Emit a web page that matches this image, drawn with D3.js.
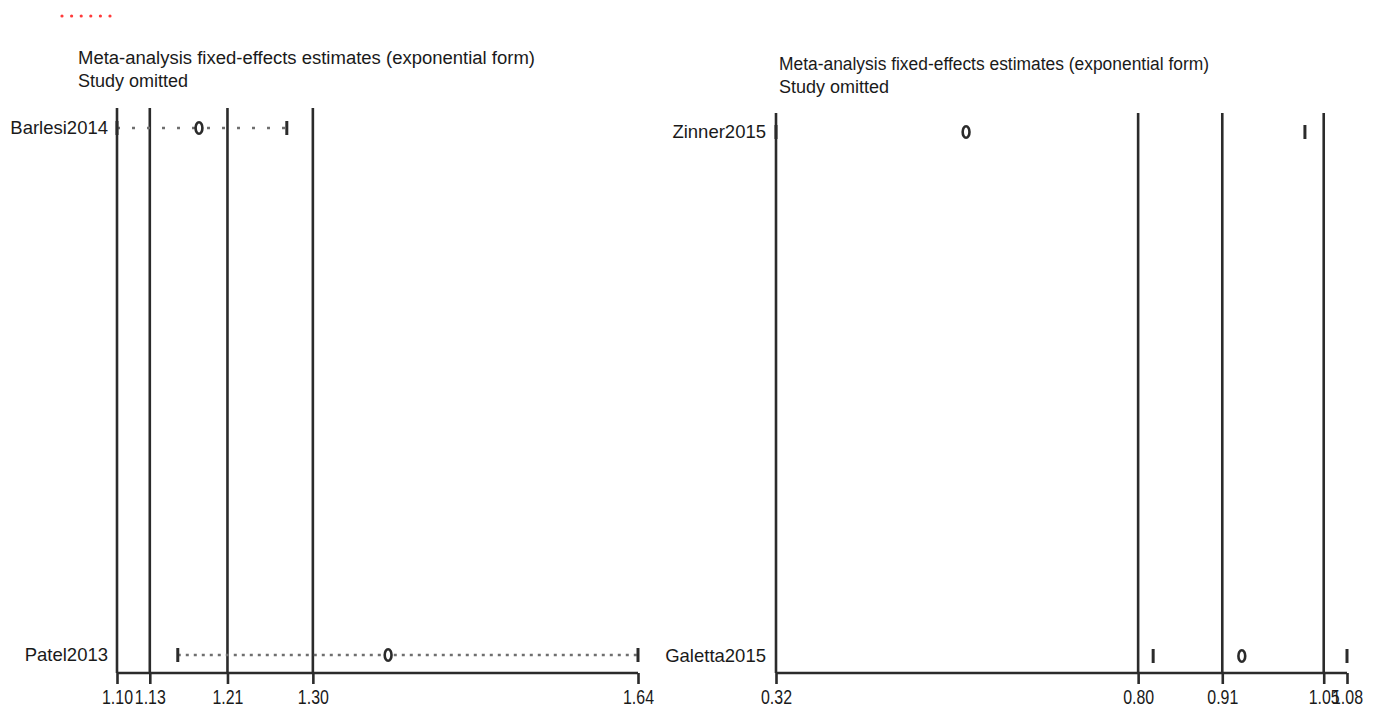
<!DOCTYPE html>
<html>
<head>
<meta charset="utf-8">
<script src="https://cdn.jsdelivr.net/npm/d3@7"></script>
<style>
  html, body { margin: 0; padding: 0; background: #fff; }
  svg { display: block; }
  text { font-family: "Liberation Sans", Arial, sans-serif; fill: #1a1a1a; }
</style>
</head>
<body>
<svg id="chart" width="1380" height="709"></svg>
<script>
// Influence analysis: each row shows the pooled estimate with one study omitted.
const titleLines = ["Meta-analysis fixed-effects estimates (exponential form)", "Study omitted"];

// Left panel
const leftStudies = ["Barlesi2014", "Patel2013"];
const leftLower = [1.10, 1.163];
const leftEstimate = [1.185, 1.381];
const leftUpper = [1.276, 1.64];
const leftDomain = [1.10, 1.64];
const leftRefs = [1.134, 1.2145, 1.303];   // lower CI, estimate, upper CI of the full analysis

// Right panel
const rightStudies = ["Zinner2015", "Galetta2015"];
const rightLower = [0.32, 0.822];
const rightEstimate = [0.573, 0.940];
const rightUpper = [1.024, 1.08];
const rightDomain = [0.32, 1.08];
const rightRefs = [0.802, 0.914, 1.049];

const svg = d3.select("#chart");
const ink = "#2b2b2b";

// small red dotted key in the top-left corner
const keyDots = [0, 1, 2, 3, 4, 5];
const keyX = d3.scaleLinear().domain([0, 5]).range([62, 110]);
svg.append("g").selectAll("circle").data(keyDots).join("circle")
  .attr("cx", d => keyX(d)).attr("cy", 16).attr("r", 1.6)
  .attr("fill", "#ff3b3b");

function panel(cfg) {
  const g = svg.append("g");
  const x = d3.scaleLinear().domain(cfg.domain).range([cfg.x0, cfg.x1]);
  const y = d3.scalePoint().domain(cfg.studies).range([cfg.yFirst, cfg.yLast]);

  // title
  g.append("g").selectAll("text").data(titleLines).join("text")
    .attr("x", cfg.titleX)
    .attr("y", (d, i) => cfg.titleY + i * 23)
    .attr("font-size", 18)
    .attr("textLength", (d, i) => i === 0 ? cfg.titleW : null)
    .attr("lengthAdjust", "spacingAndGlyphs")
    .text(d => d);

  // vertical axis line at domain start plus reference lines
  const vlines = [cfg.domain[0], ...cfg.refs];
  g.append("g").selectAll("line").data(vlines).join("line")
    .attr("x1", d => x(d)).attr("x2", d => x(d))
    .attr("y1", cfg.top).attr("y2", cfg.axisY)
    .attr("stroke", ink).attr("stroke-width", 2.6);

  // x axis
  const axis = d3.axisBottom(x)
    .tickValues([cfg.domain[0], ...cfg.refs, cfg.domain[1]])
    .tickFormat(d3.format(".2f"))
    .tickSize(11).tickPadding(6);
  const ax = g.append("g").attr("transform", `translate(0,${cfg.axisY})`).call(axis);
  ax.select(".domain").attr("stroke", ink).attr("stroke-width", 2.6)
    .attr("d", `M${x(cfg.domain[0])},0H${x(cfg.domain[1])}`);
  ax.selectAll(".tick line").attr("stroke", ink).attr("stroke-width", 2.6);
  ax.selectAll(".tick text").attr("font-size", 19.5).attr("fill", "#1a1a1a")
    .attr("font-family", "Liberation Sans, Arial, sans-serif")
    .attr("textLength", 31).attr("lengthAdjust", "spacingAndGlyphs");

  // study labels
  g.append("g").selectAll("text").data(cfg.studies).join("text")
    .attr("x", cfg.labelX).attr("y", d => y(d)).attr("dy", "0.35em")
    .attr("text-anchor", "end").attr("font-size", 18.5)
    .text(d => d);

  const rows = cfg.studies.map((s, i) => ({ s, lo: cfg.lower[i], est: cfg.est[i], hi: cfg.upper[i], dash: cfg.dash[i] }));

  // dotted confidence intervals
  if (cfg.showCI) {
    g.append("g").selectAll("line").data(rows).join("line")
      .attr("x1", d => x(d.lo)).attr("x2", d => x(d.hi))
      .attr("y1", d => y(d.s)).attr("y2", d => y(d.s))
      .attr("stroke", "#6f6f6f").attr("stroke-width", 2.6)
      .attr("stroke-dasharray", d => d.dash);
  }

  // interval end caps
  const caps = rows.flatMap(d => [{ s: d.s, v: d.lo }, { s: d.s, v: d.hi }]);
  g.append("g").selectAll("line").data(caps).join("line")
    .attr("x1", d => x(d.v)).attr("x2", d => x(d.v))
    .attr("y1", d => y(d.s) - 7).attr("y2", d => y(d.s) + 7)
    .attr("stroke", ink).attr("stroke-width", 3);

  // point estimates
  g.append("g").selectAll("ellipse").data(rows).join("ellipse")
    .attr("cx", d => x(d.est)).attr("cy", d => y(d.s))
    .attr("rx", 3.4).attr("ry", 5.8)
    .attr("fill", "#fff").attr("stroke", ink).attr("stroke-width", 2.6);
}

panel({
  studies: leftStudies, lower: leftLower, est: leftEstimate, upper: leftUpper,
  domain: leftDomain, refs: leftRefs,
  x0: 117, x1: 638, yFirst: 128, yLast: 655, top: 108, axisY: 673,
  titleX: 78, titleY: 64, titleW: 457, labelX: 108,
  showCI: true, dash: ["3,12", "3,5"]
});

panel({
  studies: rightStudies, lower: rightLower, est: rightEstimate, upper: rightUpper,
  domain: rightDomain, refs: rightRefs,
  x0: 776, x1: 1347, yFirst: 132, yLast: 656, top: 113, axisY: 673,
  titleX: 779, titleY: 70, titleW: 430, labelX: 766,
  showCI: false, dash: ["", ""]
});
</script>
</body>
</html>
